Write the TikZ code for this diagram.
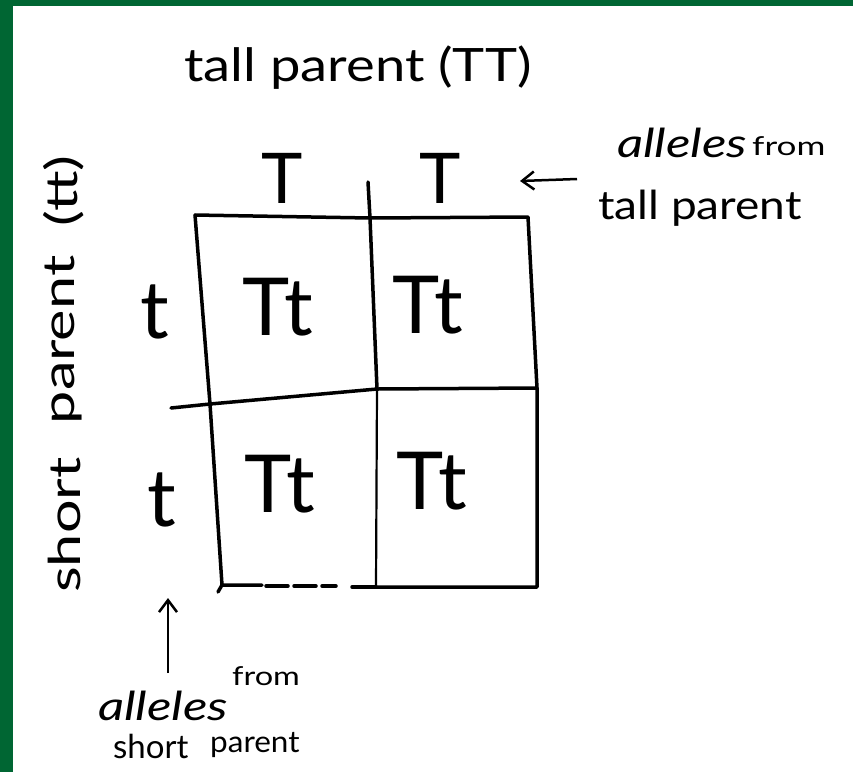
\documentclass[tikz,border=0pt]{standalone}
\usepackage{fontspec}
\usepackage{graphicx}
\setmainfont{Lato}
\usetikzlibrary{arrows.meta}
\definecolor{frame}{HTML}{006633}
\tikzset{
  gridline/.style={line width=3.5pt, line cap=round, line join=round},
  thinline/.style={line width=2.2pt, line cap=round},
  lbl/.style={inner sep=0pt, anchor=center},
  pointer/.style={line width=2.5pt, -{Straight Barb[length=12pt,width=18pt,line width=2.5pt]}},
}
\newcommand{\fs}[1]{\fontsize{#1}{#1}\selectfont}
\newcommand{\hs}[2]{\scalebox{#1}[1]{#2}}
\begin{document}
\begin{tikzpicture}[x=1pt,y=-1pt]
\useasboundingbox (0,0) rectangle (853,772);
\fill[white] (0,0) rectangle (853,772);
\fill[frame] (0,0) rectangle (853,6);
\fill[frame] (0,0) rectangle (13,772);

% title
\node[lbl] (title) at (358,68) {\fs{46}\hs{1.18}{tall parent (TT)}};
% vertical label, reading bottom to top
\node[lbl, rotate=90] (side1) at (64,525) {\fs{44}\hs{1.35}{short}};
\node[lbl, rotate=90] (side2) at (64,340) {\fs{44}\hs{1.35}{parent}};
\node[lbl, rotate=90] (side3) at (64,191) {\fs{44}\hs{1.35}{(tt)}};

% grid corners
\coordinate (tl) at (195,215);
\coordinate (tm) at (370,218);
\coordinate (tr) at (528,217);
\coordinate (ml) at (210,404);
\coordinate (mm) at (377,389);
\coordinate (mr) at (537,388);
\coordinate (bl) at (222,585);
\coordinate (bm) at (376,587);
\coordinate (br) at (537,587);
\coordinate (mstub) at (171,408);
\coordinate (vtop) at (368,182);

\draw[gridline] (tl) -- (tm) -- (tr) -- (mr) -- (br) -- (bm);
\draw[gridline] (tl) -- (ml) -- (bl) -- (262,585);
\draw[gridline, dash pattern=on 22pt off 6pt] (266,586) -- (336,586);
\draw[gridline] (352,587) -- (bm);
\draw[gridline] (bl) -- (218,592);
\draw[gridline] (mstub) -- (ml) -- (mm) -- (mr);
\draw[gridline] (vtop) -- (tm) -- (mm);
\draw[thinline] (mm) -- (bm);

% column alleles
\node[lbl] (T1) at (282,178) {\fs{70}T};
\node[lbl] (T2) at (440,178) {\fs{70}T};
% row alleles
\node[lbl] (t1) at (155,312) {\fs{80}t};
\node[lbl] (t2) at (162,500) {\fs{80}t};
% cells
\node[lbl] (c11) at (278,307) {\fs{80}Tt};
\node[lbl] (c12) at (428,305) {\fs{80}Tt};
\node[lbl] (c21) at (280,484) {\fs{80}Tt};
\node[lbl] (c22) at (432,481) {\fs{80}Tt};

% right annotation
\node[lbl, anchor=base west] (al1) at (617,157) {\fs{40}\hs{1.28}{\itshape alleles}};
\node[lbl, anchor=base west] (fr1) at (752,155) {\fs{26}\hs{1.35}{from}};
\node[lbl, anchor=west] (tp) at (598,208) {\fs{40}\hs{1.15}{tall parent}};
\coordinate (a1s) at (577,179);
\coordinate (a1e) at (520,181);
\draw[pointer] (a1s) -- (a1e);

% bottom annotation
\node[lbl, anchor=base west] (al2) at (98,720) {\fs{40}\hs{1.28}{\itshape alleles}};
\node[lbl, anchor=base west] (fr2) at (232,685) {\fs{26}\hs{1.25}{from}};
\node[lbl, anchor=base west] (sp1) at (113,758) {\fs{33}short};
\node[lbl, anchor=base west] (sp2) at (210,752) {\fs{30}\hs{1.05}{parent}};
\coordinate (a2s) at (168,673);
\coordinate (a2e) at (168,598);
\draw[pointer] (a2s) -- (a2e);
\end{tikzpicture}
\end{document}
